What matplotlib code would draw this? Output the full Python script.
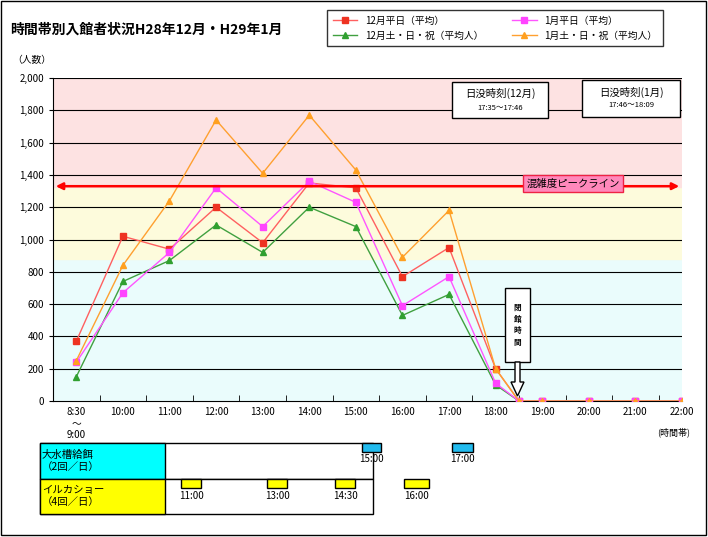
import matplotlib
matplotlib.use("Agg")
import matplotlib.pyplot as plt
from matplotlib.patches import Rectangle, FancyArrow
plt.rcParams["font.family"] = ["Noto Sans CJK JP", "DejaVu Sans"]

xpos = [0, 1, 2, 3, 4, 5, 6, 7, 8, 9, 10, 10.5, 11, 12, 13, 14]
tick_pos = [0, 1, 2, 3, 4, 5, 6, 7, 8, 9, 10, 11, 12, 13, 14]
tick_labels = ["8:30\n～\n9:00", "10:00", "11:00", "12:00", "13:00", "14:00", "15:00",
               "16:00", "17:00", "18:00", "19:00", "20:00", "21:00", "22:00"]
xs = [0, 1, 2, 3, 4, 5, 6, 7, 8, 9, 9.5, 10, 11, 12, 13]
dec_wk = [370, 1020, 940, 1200, 980, 1350, 1320, 770, 950, 200, 0, 0, 0, 0, 0]
jan_wk = [240, 670, 920, 1320, 1080, 1360, 1230, 590, 770, 110, 0, 0, 0, 0, 0]
dec_hol = [150, 740, 870, 1090, 920, 1200, 1080, 530, 660, 100, 0, 0, 0, 0, 0]
jan_hol = [250, 840, 1240, 1740, 1410, 1770, 1430, 890, 1180, 200, 0, 0, 0, 0, 0]
peak = 1330

W, H = 708, 537
fig = plt.figure(figsize=(W/100, H/100), dpi=100)
bg = fig.add_axes([0, 0, 1, 1]); bg.set_xlim(0, W); bg.set_ylim(H, 0); bg.axis("off")
bg.add_patch(Rectangle((1, 1), W-3, H-3, fill=False, ec="black", lw=1))
bg.text(10, 30, "時間帯別入館者状況H28年12月・H29年1月", fontsize=10, fontweight="bold", va="center")
bg.text(12, 60, "（人数）", fontsize=7, va="center")
bg.text(657, 432, "(時間帯)", fontsize=6.5, va="center")

ax = fig.add_axes([53/W, 1-401/H, (682-53)/W, (401-78)/H])
ax.set_xlim(-0.5, 13)
ax.set_ylim(0, 2000)
ax.axhspan(0, 880, color="#eafcfc", zorder=0)
ax.axhspan(880, 1325, color="#fdfbdc", zorder=0)
ax.axhspan(1325, 2000, color="#fde2e2", zorder=0)
for y in range(200, 2001, 200):
    ax.axhline(y, color="black", lw=0.8, zorder=1)
ax.set_yticks(range(0, 2001, 200))
ax.set_yticklabels([f"{v:,}" for v in range(0, 2001, 200)], fontsize=7)
ax.set_xticks(xs[:10] + xs[11:])
ax.set_xticklabels(tick_labels, fontsize=7, va="top")
ax.set_xticks([x + 0.5 for x in range(-1, 13)], minor=True)
ax.tick_params(axis="x", which="major", length=0, pad=4)
ax.tick_params(axis="x", which="minor", length=4, direction="in")
ax.tick_params(axis="y", length=3)
for s in ["top", "right"]:
    ax.spines[s].set_visible(False)

series = [(dec_wk, "#ff6060", "#ee3322", "s", "12月平日（平均）"),
          (dec_hol, "#40a040", "#30a030", "^", "12月土・日・祝（平均人）"),
          (jan_wk, "#ff55ff", "#ff44ff", "s", "1月平日（平均）"),
          (jan_hol, "#ffa030", "#ffa020", "^", "1月土・日・祝（平均人）")]
handles = []
for vals, lc, mc, m, lab in series:
    h, = ax.plot(xs, vals, color=lc, lw=1, marker=m, ms=5, mfc=mc, mec=mc, label=lab, zorder=3)
    handles.append(h)

ax.annotate("", xy=(-0.5, peak), xytext=(13, peak),
            arrowprops=dict(arrowstyle="<|-|>", color="#ff0000", lw=1.8, mutation_scale=10), zorder=4)

fig.legend(handles=handles, ncol=2, loc="upper left", bbox_to_anchor=(322/W, 1-5/H),
           fontsize=7, frameon=True, fancybox=False, edgecolor="black", columnspacing=3,
           handlelength=2.5, borderpad=0.6)

def box(x, y, w, h, fc="white", ec="black", lw=1, z=5):
    bg.add_patch(Rectangle((x, y), w, h, fc=fc, ec=ec, lw=lw, zorder=z))

# overlay axes on top for annotations
ov = fig.add_axes([0, 0, 1, 1]); ov.set_xlim(0, W); ov.set_ylim(H, 0); ov.axis("off")
def obox(x, y, w, h, fc="white", ec="black", lw=1):
    ov.add_patch(Rectangle((x, y), w, h, fc=fc, ec=ec, lw=lw))
obox(452, 82, 96, 36)
ov.text(500, 93, "日没時刻(12月)", fontsize=7.5, ha="center", va="center")
ov.text(500, 108, "17:35～17:46", fontsize=5.5, ha="center", va="center")
obox(582, 80, 98, 37)
ov.text(631, 92, "日没時刻(1月)", fontsize=7.5, ha="center", va="center")
ov.text(631, 105, "17:46～18:09", fontsize=5.5, ha="center", va="center")
obox(523, 175, 100, 17, fc="#ff88bb", ec="#ee2244")
ov.text(573, 184, "混雑度ピークライン", fontsize=7.5, ha="center", va="center")
obox(505, 288, 25, 74)
ov.text(517.5, 325, "閉\n館\n時\n間", fontsize=5.5, ha="center", va="center", fontweight="bold", linespacing=1.4)
ov.add_patch(FancyArrow(517.5, 362, 0, 34, width=5, head_width=13, head_length=14,
                        length_includes_head=True, fc="white", ec="black", lw=1))

# schedule table
obox(40, 443, 333, 36, fc="white")
obox(40, 479, 333, 35, fc="white")
obox(40, 443, 125, 36, fc="#00ffff")
obox(40, 479, 125, 35, fc="#ffff00")
ov.text(42, 461, "大水槽給餌\n（2回／日）", fontsize=7.5, va="center", linespacing=1.3)
ov.text(42, 496, "イルカショー\n（4回／日）", fontsize=7.5, va="center", linespacing=1.3)
feed = [("15:00", 362, 381), ("17:00", 452, 473)]
for lab, x0, x1 in feed:
    obox(x0, 443, x1-x0, 9, fc="#22bbee")
    ov.text((x0+x1)/2, 459, lab, fontsize=7, ha="center", va="center")
show = [("11:00", 181, 201), ("13:00", 267, 287), ("14:30", 335, 355), ("16:00", 404, 429)]
for lab, x0, x1 in show:
    obox(x0, 479, x1-x0, 9, fc="#ffff00")
    ov.text((x0+x1)/2, 496, lab, fontsize=7, ha="center", va="center")

fig.savefig("out.png", dpi=100)
